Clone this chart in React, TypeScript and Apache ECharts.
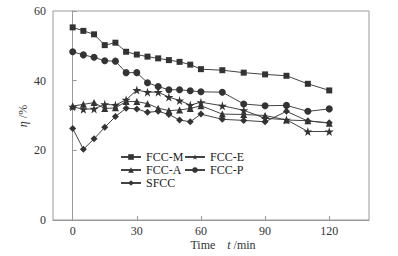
import React, { useEffect, useRef } from "react";
import * as echarts from "echarts";

const times = [0, 5, 10, 15, 20, 25, 30, 35, 40, 45, 50, 55, 60, 70, 80, 90, 100, 110, 120];
const fccM = [55.3, 54.3, 53.3, 50.2, 50.9, 48.3, 47.5, 46.9, 46.4, 45.9, 45.4, 44.6, 43.3, 43.0, 42.3, 41.8, 41.4, 39.1, 37.2];
const fccP = [48.3, 47.4, 46.7, 45.7, 45.6, 42.3, 42.3, 39.4, 38.3, 37.4, 37.4, 37.1, 36.8, 36.7, 33.3, 32.8, 32.9, 31.2, 31.9];
const fccE = [32.5, 31.8, 31.9, 33.2, 33.0, 34.5, 37.3, 36.7, 36.7, 35.3, 34.3, 33.0, 33.8, 32.8, 31.5, 29.2, 28.8, 25.4, 25.4];
const fccA = [32.7, 33.2, 33.7, 32.0, 32.2, 34.0, 34.0, 33.4, 32.1, 31.4, 31.6, 32.0, 32.8, 30.4, 30.3, 30.0, 28.7, 28.5, 27.8];
const sfcc = [26.3, 20.3, 23.3, 26.6, 29.7, 32.1, 31.9, 30.9, 31.2, 30.3, 28.7, 28.2, 30.4, 28.9, 28.6, 28.2, 31.2, 28.4, 27.9];
const xTicks = [0, 30, 60, 90, 120];

const STAR = "path://M50,0 L61,35 L98,35 L68,57 L79,91 L50,70 L21,91 L32,57 L2,35 L39,35 Z";
const FONT = "Liberation Serif";
const INK = "#333";

export default function App() {
  const ref = useRef<HTMLDivElement>(null);
  useEffect(() => {
    if (!ref.current) return;
    const chart = echarts.init(ref.current, undefined, { renderer: "svg" });
    const mk = (name: string, vals: number[], symbol: string, size: number) => ({
      name,
      type: "line",
      data: times.map((t, i) => [t, vals[i]]),
      symbol,
      symbolSize: size,
      lineStyle: { color: "#444", width: 1 },
      itemStyle: { color: INK, borderWidth: 0 },
      emphasis: { disabled: true },
    });
    const legendBase = {
      orient: "horizontal",
      itemWidth: 20,
      itemHeight: 7,
      padding: 0,
      textStyle: { fontFamily: FONT, fontSize: 12, color: "#222" },
    };
    chart.setOption({
      animation: false,
      grid: { left: 53, right: 29, top: 11, bottom: 36, show: true, borderColor: "#999", borderWidth: 1 },
      xAxis: {
        type: "value",
        min: -9.2,
        max: 138.6,
        axisLine: { show: true, lineStyle: { color: "#999" } },
        axisTick: { show: true, inside: true, length: 4, customValues: xTicks, lineStyle: { color: "#999" } },
        axisLabel: { customValues: xTicks, fontFamily: FONT, fontSize: 12, color: INK, margin: 5 },
        splitLine: { show: false },
      },
      yAxis: {
        type: "value",
        min: 0,
        max: 60,
        interval: 20,
        axisLine: { show: true, lineStyle: { color: "#999" } },
        axisTick: { show: true, inside: true, length: 4, lineStyle: { color: "#999" } },
        axisLabel: { fontFamily: FONT, fontSize: 12, color: INK, margin: 7 },
        splitLine: { show: false },
      },
      legend: [
        { ...legendBase, data: ["FCC-M"], left: 120, top: 151 },
        { ...legendBase, data: ["FCC-E"], left: 184, top: 151 },
        { ...legendBase, data: ["FCC-A"], left: 120, top: 164 },
        { ...legendBase, data: ["FCC-P"], left: 184, top: 164 },
        { ...legendBase, data: ["SFCC"], left: 120, top: 177 },
      ],
      graphic: [
        {
          type: "text",
          x: 23,
          y: 116,
          rotation: Math.PI / 2,
          style: {
            text: "{i|η} /%",
            align: "center",
            verticalAlign: "middle",
            fontFamily: FONT,
            fontSize: 12,
            fill: INK,
            rich: { i: { fontStyle: "italic", fontFamily: FONT, fontSize: 12, fill: INK } },
          },
        },
        {
          type: "text",
          x: 223,
          y: 245,
          style: {
            text: "Time{s| }{i|t} /min",
            align: "center",
            verticalAlign: "middle",
            fontFamily: FONT,
            fontSize: 12,
            fill: INK,
            rich: {
              i: { fontStyle: "italic", fontFamily: FONT, fontSize: 12, fill: INK },
              s: { width: 12, fontSize: 12 },
            },
          },
        },
      ],
      series: [
        mk("FCC-M", fccM, "rect", 6),
        mk("FCC-A", fccA, "triangle", 7),
        mk("SFCC", sfcc, "diamond", 7),
        mk("FCC-E", fccE, STAR, 9),
        mk("FCC-P", fccP, "circle", 7),
      ],
    });
    return () => chart.dispose();
  }, []);
  return <div ref={ref} style={{ width: 398, height: 256, position: "absolute", left: 0, top: 0 }} />;
}
